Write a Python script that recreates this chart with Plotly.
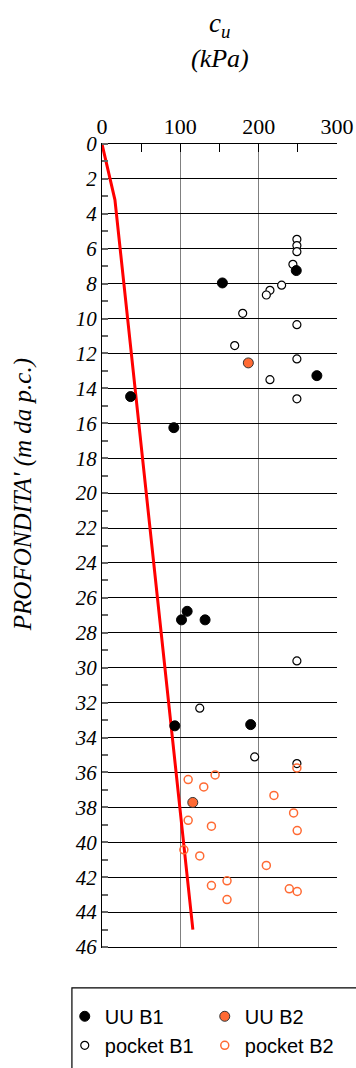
import plotly.graph_objects as go

# ---- data (kPa, m) ----
uu_b1_cu = [153.7, 248.0, 274.3, 36.5, 91.7, 108.7, 101.5, 131.6, 93.0, 189.8]
uu_b1_z = [7.96, 7.25, 13.27, 14.47, 16.25, 26.77, 27.26, 27.26, 33.33, 33.26]

uu_b2_cu = [186.8, 115.9]
uu_b2_z = [12.54, 37.72]

pocket_b1_cu = [248.8, 248.8, 248.8, 243.7, 229.3, 214.4, 209.8, 179.6, 248.8, 169.4,
                248.8, 214.4, 248.8, 248.8, 124.8, 194.9, 248.8]
pocket_b1_z = [5.46, 5.82, 6.17, 6.89, 8.09, 8.38, 8.65, 9.70, 10.35, 11.55,
               12.31, 13.50, 14.60, 29.61, 32.32, 35.11, 35.49]

pocket_b2_cu = [248.8, 144.4, 110.0, 129.9, 219.5, 244.6, 110.0, 139.7, 249.2, 104.5,
                124.8, 209.8, 159.6, 139.7, 239.1, 249.2, 159.6]
pocket_b2_z = [35.74, 36.14, 36.41, 36.83, 37.32, 38.32, 38.74, 39.08, 39.33, 40.43,
               40.78, 41.33, 42.21, 42.48, 42.67, 42.82, 43.28]

trend_cu = [0, 16.5, 116]
trend_z = [0, 3.2, 45.0]

x_ticks = [0, 100, 200, 300]
y_ticks = list(range(0, 47, 2))
y_labels = [f"<i>{v}</i>" for v in y_ticks]

ORANGE = "#FF6A33"
serif = "Liberation Serif"
sans = "Liberation Sans"

fig = go.Figure()
fig.add_trace(go.Scatter(x=trend_cu, y=trend_z, mode="lines",
                         line=dict(color="#FF0000", width=3), showlegend=False,
                         hoverinfo="skip"))
fig.add_trace(go.Scatter(x=pocket_b1_cu, y=pocket_b1_z, mode="markers", name="pocket B1",
                         legendrank=3,
                         marker=dict(symbol="circle", size=8, color="white",
                                     line=dict(color="black", width=1.2))))
fig.add_trace(go.Scatter(x=pocket_b2_cu, y=pocket_b2_z, mode="markers", name="pocket B2",
                         legendrank=4,
                         marker=dict(symbol="circle-open", size=8, color=ORANGE,
                                     line=dict(color=ORANGE, width=1.5))))
fig.add_trace(go.Scatter(x=uu_b1_cu, y=uu_b1_z, mode="markers", name="UU B1",
                         legendrank=1,
                         marker=dict(symbol="circle", size=10, color="black",
                                     line=dict(color="black", width=1))))
fig.add_trace(go.Scatter(x=uu_b2_cu, y=uu_b2_z, mode="markers", name="UU B2",
                         legendrank=2,
                         marker=dict(symbol="circle", size=10, color=ORANGE,
                                     line=dict(color="#333333", width=1))))

fig.update_layout(
    width=356, height=1068,
    font=dict(family=serif, size=20, color="black"),
    margin=dict(l=102, r=19, t=144, b=121, autoexpand=False),
    paper_bgcolor="white", plot_bgcolor="white",
    showlegend=True,
    legend=dict(orientation="h", x=-0.1585, y=-0.062, xanchor="left", yanchor="top",
                entrywidth=95, entrywidthmode="pixels", itemwidth=30,
                font=dict(family=sans, size=20, color="black"),
                bgcolor="rgba(0,0,0,0)", borderwidth=0, tracegroupgap=0),
    xaxis=dict(side="top", range=[0, 300], tickmode="array", tickvals=x_ticks,
               ticktext=[str(v) for v in x_ticks],
               showgrid=True, gridcolor="#808080", gridwidth=1.3,
               showline=True, linecolor="black", linewidth=1.3, mirror=True,
               ticks="inside", ticklen=8, tickcolor="black",
               minor=dict(dtick=50, ticks="inside", ticklen=8, tickcolor="black", showgrid=False),
               tickfont=dict(family=serif, size=22, color="black"),
               zeroline=False),
    yaxis=dict(range=[46, 0], tickmode="array", tickvals=y_ticks, ticktext=y_labels,
               showgrid=True, gridcolor="black", gridwidth=1.2,
               showline=True, linecolor="black", linewidth=1.3, mirror=False,
               ticks="",
               minor=dict(dtick=1, ticks="inside", ticklen=6, tickcolor="#666666",
                          tickwidth=1.5, showgrid=False),
               tickfont=dict(family=serif, size=21, color="black"),
               zeroline=False),
    annotations=[
        dict(text="<i>c</i><sub><i>u</i></sub>", xref="paper", yref="paper",
             x=0.5, y=1.148, xanchor="center", yanchor="middle", showarrow=False,
             font=dict(family=serif, size=27, color="black")),
        dict(text="<i>(kPa)</i>", xref="paper", yref="paper",
             x=0.5, y=1.107, xanchor="center", yanchor="middle", showarrow=False,
             font=dict(family=serif, size=26, color="black")),
        dict(text="<i>PROFONDITA' (m da p.c.)</i>", xref="paper", yref="paper",
             x=-0.336, y=0.5627, xanchor="center", yanchor="middle", showarrow=False,
             textangle=-90, font=dict(family=serif, size=25, color="black")),
    ],
    shapes=[
        dict(type="rect", xref="paper", yref="paper", x0=-0.128, x1=1.2,
             y0=-0.051, y1=-0.2, line=dict(color="black", width=1.2),
             fillcolor="rgba(0,0,0,0)", layer="below"),
    ],
)

fig.write_html("out.html")
